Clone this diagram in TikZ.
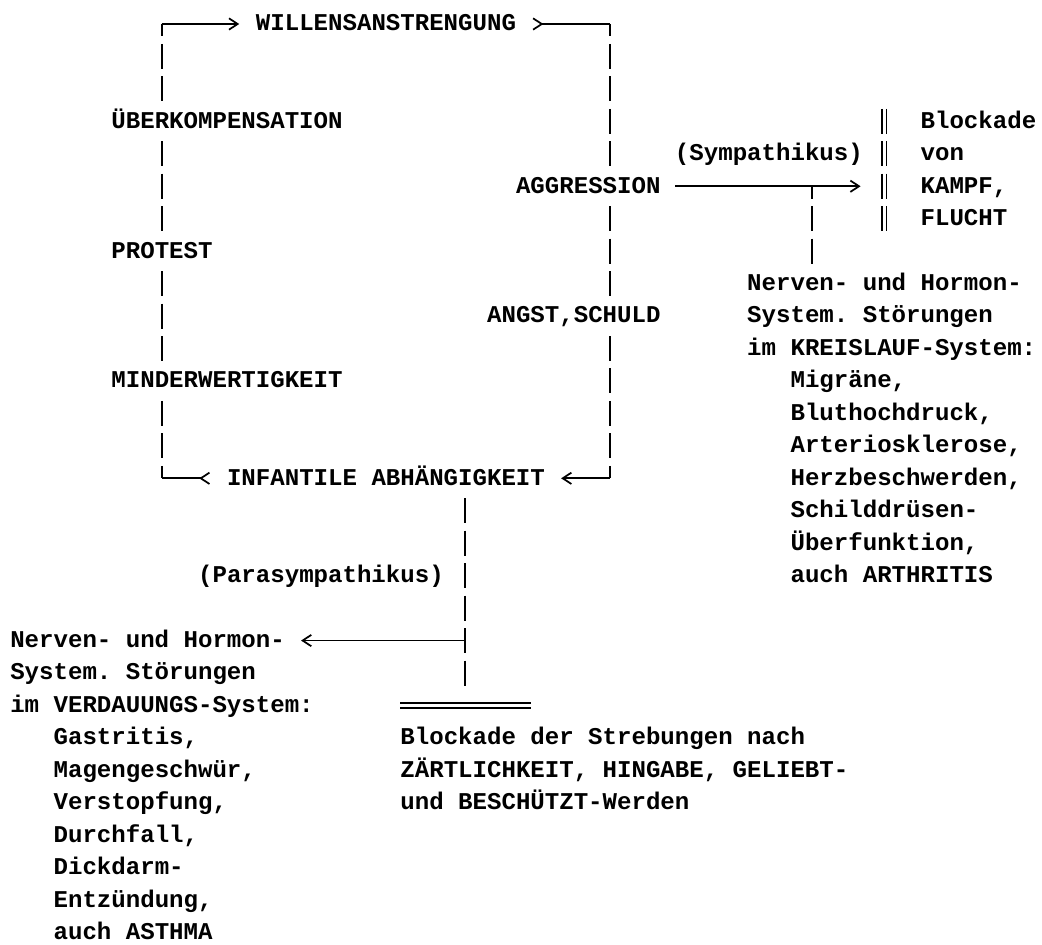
\documentclass[tikz,border=0pt]{standalone}
\usepackage{fontspec}
\setmonofont{Liberation Mono}
\usetikzlibrary{arrows.meta,calc,backgrounds}
\newcommand\X[1]{10+14.45*#1}
\newcommand\Y[1]{24+32.45*#1}
\newcommand\tfont{\ttfamily\bfseries\fontsize{18.06pt}{24pt}\selectfont}
\begin{document}
\begin{tikzpicture}[x=0.75pt,y=-0.75pt,
  t/.style={anchor=west, inner xsep=0pt, inner ysep=0.5pt, text height=14.7pt, text depth=4.4pt, fill=white, font=\tfont},
  hline/.style={line width=1.3pt},
  vline/.style={line width=1.3pt, dash pattern=on 18.75pt off 5.5875pt, dash phase=9.375pt},
  dblv/.style={line width=1pt, dash pattern=on 18.75pt off 5.5875pt},
  dblh/.style={line width=1pt},
  tip/.style={-{Straight Barb[length=6.5pt,width=8.5pt]}},
  rtip/.style={-{Straight Barb[length=6.5pt,width=8.5pt,reversed]}},
]
\useasboundingbox (0,0) rectangle (1042,945);

% ---- main cycle ----
\node[t] (will)    at ({\X{17}},{\Y{0}})  {WILLENSANSTRENGUNG};
\node[t] (ueber)   at ({\X{7}},{\Y{3}})   {ÜBERKOMPENSATION};
\node[t] (protest) at ({\X{7}},{\Y{7}})   {PROTEST};
\node[t] (minder)  at ({\X{7}},{\Y{11}})  {MINDERWERTIGKEIT};
\node[t] (infant)  at ({\X{15}},{\Y{14}}) {INFANTILE ABHÄNGIGKEIT};
\node[t] (aggr)    at ({\X{35}},{\Y{5}})  {AGGRESSION};
\node[t] (angst)   at ({\X{33}},{\Y{9}})  {ANGST,SCHULD};

% ---- sympathikus branch ----
\node[t] (symp)  at ({\X{46}},{\Y{4}}) {(Sympathikus)};
\node[t] (blk1)  at ({\X{63}},{\Y{3}}) {Blockade};
\node[t] (blk2)  at ({\X{63}},{\Y{4}}) {von};
\node[t] (blk3)  at ({\X{63}},{\Y{5}}) {KAMPF,};
\node[t] (blk4)  at ({\X{63}},{\Y{6}}) {FLUCHT};
\node[t] (nr1)  at ({\X{51}},{\Y{8}})  {Nerven- und Hormon-};
\node[t] (nr2)  at ({\X{51}},{\Y{9}})  {System. Störungen};
\node[t] (nr3)  at ({\X{51}},{\Y{10}}) {im KREISLAUF-System:};
\node[t] (nr4)  at ({\X{54}},{\Y{11}}) {Migräne,};
\node[t] (nr5)  at ({\X{54}},{\Y{12}}) {Bluthochdruck,};
\node[t] (nr6)  at ({\X{54}},{\Y{13}}) {Arteriosklerose,};
\node[t] (nr7)  at ({\X{54}},{\Y{14}}) {Herzbeschwerden,};
\node[t] (nr8)  at ({\X{54}},{\Y{15}}) {Schilddrüsen-};
\node[t] (nr9)  at ({\X{54}},{\Y{16}}) {Überfunktion,};
\node[t] (nr10) at ({\X{54}},{\Y{17}}) {auch ARTHRITIS};

% ---- parasympathikus branch ----
\node[t] (para) at ({\X{13}},{\Y{17}}) {(Parasympathikus)};
\node[t] (nl1)  at ({\X{0}},{\Y{19}}) {Nerven- und Hormon-};
\node[t] (nl2)  at ({\X{0}},{\Y{20}}) {System. Störungen};
\node[t] (nl3)  at ({\X{0}},{\Y{21}}) {im VERDAUUNGS-System:};
\node[t] (nl4)  at ({\X{3}},{\Y{22}}) {Gastritis,};
\node[t] (nl5)  at ({\X{3}},{\Y{23}}) {Magengeschwür,};
\node[t] (nl6)  at ({\X{3}},{\Y{24}}) {Verstopfung,};
\node[t] (nl7)  at ({\X{3}},{\Y{25}}) {Durchfall,};
\node[t] (nl8)  at ({\X{3}},{\Y{26}}) {Dickdarm-};
\node[t] (nl9)  at ({\X{3}},{\Y{27}}) {Entzündung,};
\node[t] (nl10) at ({\X{3}},{\Y{28}}) {auch ASTHMA};
\node[inner sep=0pt, minimum width=97.54pt, minimum height=3.4pt, anchor=west] (bar) at ({\X{27}},{\Y{21}}) {};
\node[t] (bb1) at ({\X{27}},{\Y{22}}) {Blockade der Strebungen nach};
\node[t] (bb2) at ({\X{27}},{\Y{23}}) {ZÄRTLICHKEIT, HINGABE, GELIEBT-};
\node[t] (bb3) at ({\X{27}},{\Y{24}}) {und BESCHÜTZT-Werden};

% ---- coordinates ----
\coordinate (TL) at ({\X{10.5}},{\Y{0}});
\coordinate (BL) at ({\X{10.5}},{\Y{14}});
\coordinate (TR) at ({\X{41.5}},{\Y{0}});
\coordinate (BR) at ({\X{41.5}},{\Y{14}});
\coordinate (willIn)  at ($(will.west)+(-16.4,0)$);
\coordinate (willOut) at ($(will.east)+(15.95,0)$);
\coordinate (infOut)  at ($(infant.west)+(-16.4,0)$);
\coordinate (infIn)   at ($(infant.east)+(15.95,0)$);
\coordinate (aggrOut) at ($(aggr.east)+(14.45,0)$);
\coordinate (aggrTip) at ({\X{58}+12.5},{\Y{5}});
\coordinate (jA)    at ({\X{55.5}},{\Y{5}});
\coordinate (jAend) at ({\X{55.5}},{\Y{7}+12.5});
\coordinate (dblTop) at ({\X{60.5}},{\Y{3}-12.5});
\coordinate (dblBot) at ({\X{60.5}},{\Y{6}+12.5});
\coordinate (jB0)   at ({\X{31.5}},{\Y{14}});
\coordinate (jB)    at ({\X{31.5}},{\Y{19}});
\coordinate (jBend) at ({\X{31.5}},{\Y{20}+12.5});
\coordinate (nlTip) at ($(nl1.east)+(15.95,0)$);

\begin{pgfonlayer}{background}
\fill[white] (0,0) rectangle (1042,945);
% left side of the cycle
\draw[hline,tip]  (TL) -- (willIn);
\draw[vline]      (TL) -- (BL);
\draw[hline,rtip] (BL) -- (infOut);
% right side of the cycle
\draw[hline,rtip] (TR) -- (willOut);
\draw[vline]      (TR) -- (BR);
\draw[hline,tip]  (BR) -- (infIn);
% sympathikus
\draw[hline,tip] (aggrOut) -- (aggrTip);
\draw[vline] (jA) -- (jAend);
\draw[dblv] ([xshift=-1.7pt]dblTop) -- ([xshift=-1.7pt]dblBot);
\draw[dblv] ([xshift=1.7pt]dblTop) -- ([xshift=1.7pt]dblBot);
% parasympathikus
\draw[vline] (jB0) -- (jBend);
\draw[hline,tip] (jB) -- (nlTip);
\draw[dblh] (bar.north west) -- (bar.north east);
\draw[dblh] (bar.south west) -- (bar.south east);
\end{pgfonlayer}
\end{tikzpicture}
\end{document}
